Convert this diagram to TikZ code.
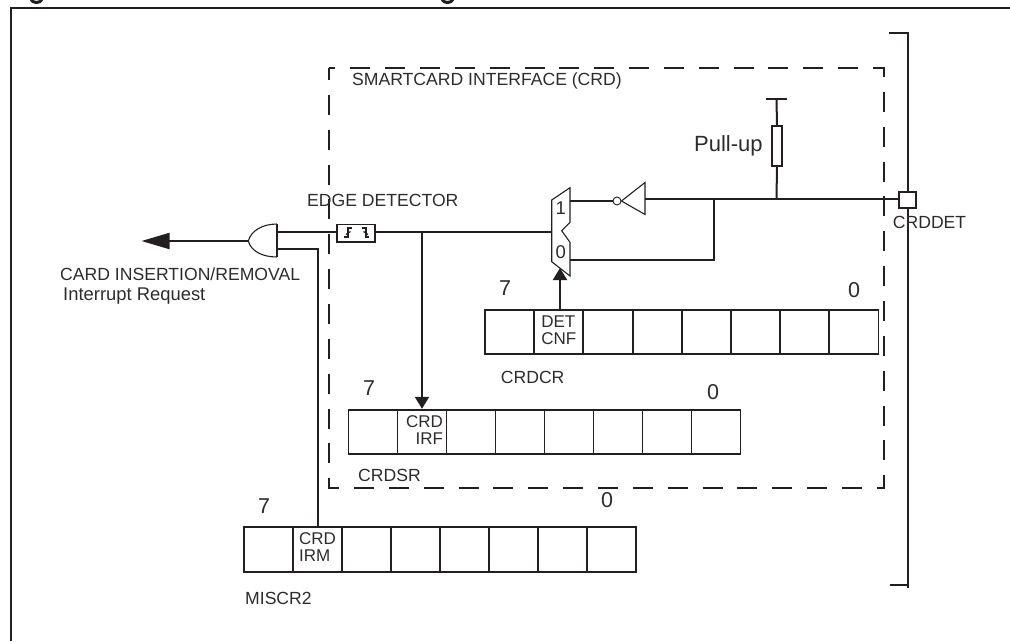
\documentclass[tikz,border=0pt]{standalone}
\usepackage{fontspec}
\setmainfont{Liberation Sans}
\usetikzlibrary{arrows.meta, calc}
\definecolor{inkdark}{HTML}{231F20}
\definecolor{inktext}{HTML}{2E2B2C}
\tikzstyle{wire} = [line width=2pt, color=inkdark]
\tikzstyle{thinwire} = [line width=1.1pt, color=inkdark]
\tikzstyle{arrow} = [wire, -{Triangle[length=12pt, width=14pt]}]

\begin{document}
\begin{tikzpicture}[x=1pt, y=-1pt,
    cell/.style={rectangle, draw=inkdark, line width=1.9pt, minimum width=49pt, minimum height=44.5pt,
      inner sep=0pt, text depth=4pt, text=inktext, font=\fontsize{17}{16.5}\selectfont},
    lbl/.style={anchor=base west, inner sep=0pt, text=inktext, font=\fontsize{17.6}{18}\selectfont},
    digit/.style={inner sep=0pt, text=inktext, font=\fontsize{21.5}{22}\selectfont},
    pad/.style={rectangle, draw=inkdark, fill=white, line width=2pt, minimum width=16.5pt, minimum height=16.5pt, inner sep=0pt},
    resistor/.style={rectangle, draw=inkdark, fill=white, line width=1.9pt, minimum width=10.5pt, minimum height=40pt, inner sep=0pt},
    edgebox/.style={rectangle, draw=inkdark, fill=white, line width=1.9pt, minimum width=38pt, minimum height=17.5pt, inner sep=0pt},
    bubble/.style={circle, draw=inkdark, fill=white, line width=0.9pt, minimum size=8pt, inner sep=0pt}
  ]
    \useasboundingbox (0,0) rectangle (1010,641);

    % ── Outer frame and clipped title
    \draw[wire] (1010,7.5) -- (11,7.5) -- (11,641);
    \draw[line width=3pt, color=inkdark] (31,-0.5) .. controls (33,3.5) and (40,3.5) .. (42,-0.5);
    \draw[line width=3pt, color=inkdark] (442,-0.5) .. controls (444,3.5) and (451,3.5) .. (453,-0.5);

    % ── Chip boundary
    \draw[wire] (889,32.5) -- (908,32.5) -- (908,588);
    \draw[wire] (890,585) -- (908,585);

    % ── Smartcard interface
    \draw[wire, dash pattern=on 20pt off 14.85pt, dash phase=8pt] (329,68) rectangle (884,488);
    \node[lbl] (crdtitle) at (352,85.5) {SMARTCARD INTERFACE (CRD)};
    \node[lbl] (edgetitle) at (307,206) {EDGE DETECTOR};
    \node[lbl, font=\fontsize{22}{22}\selectfont] (pulluptitle) at (694,151) {Pull-up};
    \node[lbl] (irqtitle) at (60,280.5) {CARD INSERTION/REMOVAL};
    \node[lbl, font=\fontsize{18.4}{18}\selectfont] (irqsub) at (63,300) {Interrupt Request};

    % ── Pad and pull-up
    \node[pad] (crddet) at (907.3,200) {};
    \node[lbl] (crddetlbl) at (892.7,228) {CRDDET};
    \node[resistor] (pullup) at (777,146) {};
    \coordinate (railmid) at (776.5,99);
    \coordinate (rail1) at (766,99);
    \coordinate (rail2) at (787,99);
    \coordinate (pullnode) at (776.5,199);

    % ── Inverter
    \coordinate (invin) at (645,199);
    \coordinate (invtop) at (645,182.5);
    \coordinate (invbot) at (645,214.5);
    \coordinate (invtip) at (621.5,201);
    \node[bubble] (invdot) at (617,201) {};
    \draw[thinwire] (invtop) -- (invbot) -- (invtip) -- cycle;

    % ── Mux
    \coordinate (muxin) at (551.7,232);
    \coordinate (mux1) at (570,201);
    \coordinate (mux0) at (570,259.7);
    \coordinate (muxsel) at (560,268);
    \draw[thinwire] (551.7,200) -- (570,187.7) -- (570,222.3) -- (561.7,230.7) -- (570,242.3) -- (570,276) -- (551.7,261.7) -- cycle;
    \node[digit, font=\fontsize{18.5}{18}\selectfont] (muxone) at (560.7,207.7) {1};
    \node[digit, font=\fontsize{18.5}{18}\selectfont] (muxzero) at (560.7,251.7) {0};
    \coordinate (loopnode) at (714,199);

    % ── Edge detector
    \node[edgebox] (edgedet) at (356,233.2) {};
    \draw[line width=1.7pt, color=inkdark] (344.3,237.3) -- (348.3,237.3) -- (348.3,228.3) -- (351.7,228.3);
    \draw[line width=1.2pt, color=inkdark] (346,234.5) -- (350.5,231.5);
    \draw[line width=1.7pt, color=inkdark] (361.7,228.3) -- (365.7,228.3) -- (365.7,237.3) -- (369.3,237.3);
    \draw[line width=1.2pt, color=inkdark] (363.5,231.5) -- (368,234.5);
    \coordinate (edgejoin) at (422,232);

    % ── AND gate
    \coordinate (andout) at (248.3,241);
    \coordinate (andin1) at (277,232);
    \coordinate (andin2) at (277,249);
    \coordinate (irqend) at (141.5,241);
    \draw[thinwire] (277,224) .. controls (262,224) and (251,231) .. (andout) .. controls (251,251) and (262,257) .. (277,257);
    \draw[wire] (277,224) -- (277,257);

    % ── CRDCR
    \node[cell] (c1) at (509.6,332) {};
    \node[cell, align=left] (c2) at (558.8,332) {DET\\CNF};
    \node[cell] (c3) at (608,332) {};
    \node[cell] (c4) at (657.2,332) {};
    \node[cell] (c5) at (706.4,332) {};
    \node[cell] (c6) at (755.6,332) {};
    \node[cell] (c7) at (804.8,332) {};
    \node[cell] (c8) at (854,332) {};
    \node[digit] (c7lbl) at (505,288) {7};
    \node[digit] (c0lbl) at (854,290) {0};
    \node[lbl] (crdcr) at (500.7,383) {CRDCR};

    % ── CRDSR
    \node[cell] (s1) at (373,432) {};
    \node[cell, align=right] (s2) at (422,432) {\hspace*{5pt}CRD\\IRF};
    \node[cell] (s3) at (471,432) {};
    \node[cell] (s4) at (520,432) {};
    \node[cell] (s5) at (569,432) {};
    \node[cell] (s6) at (618,432) {};
    \node[cell] (s7) at (667,432) {};
    \node[cell] (s8) at (716,432) {};
    \node[digit] (s7lbl) at (369,388) {7};
    \node[digit] (s0lbl) at (713,392) {0};
    \node[lbl] (crdsr) at (358,481) {CRDSR};

    % ── MISCR2
    \node[cell] (m1) at (268.5,549.3) {};
    \node[cell, align=left] (m2) at (317.5,549.3) {CRD\\IRM};
    \node[cell] (m3) at (366.5,549.3) {};
    \node[cell] (m4) at (415.5,549.3) {};
    \node[cell] (m5) at (464.5,549.3) {};
    \node[cell] (m6) at (513.5,549.3) {};
    \node[cell] (m7) at (562.5,549.3) {};
    \node[cell] (m8) at (611.5,549.3) {};
    \node[digit] (m7lbl) at (264,505.7) {7};
    \node[digit] (m0lbl) at (607,500) {0};
    \node[lbl] (miscr2) at (245,604) {MISCR2};

    % ── Connectors
    \draw[wire] (invin -| crddet.west) -- (invin);
    \draw[wire] (pullnode) -- (pullup.south);
    \draw[wire] (pullup.north) -- (railmid);
    \draw[wire] (rail1) -- (rail2);
    \draw[wire] (loopnode) -- (loopnode |- mux0) -- (mux0);
    \draw[wire] (invdot.west) -- (invdot.west -| mux1);
    \draw[wire] (edgedet.east |- muxin) -- (muxin);
    \draw[wire] (andin1) -- (andin1 -| edgedet.west);
    \draw[wire] (andin2) -| (m2.north);
    \draw[wire, -{Triangle[length=28pt, width=16pt]}] (andout) -- (irqend);
    \draw[arrow] (edgejoin) -- (s2.north);
    \draw[arrow] (c2.north -| muxsel) -- (muxsel);
  \end{tikzpicture}
\end{document}
